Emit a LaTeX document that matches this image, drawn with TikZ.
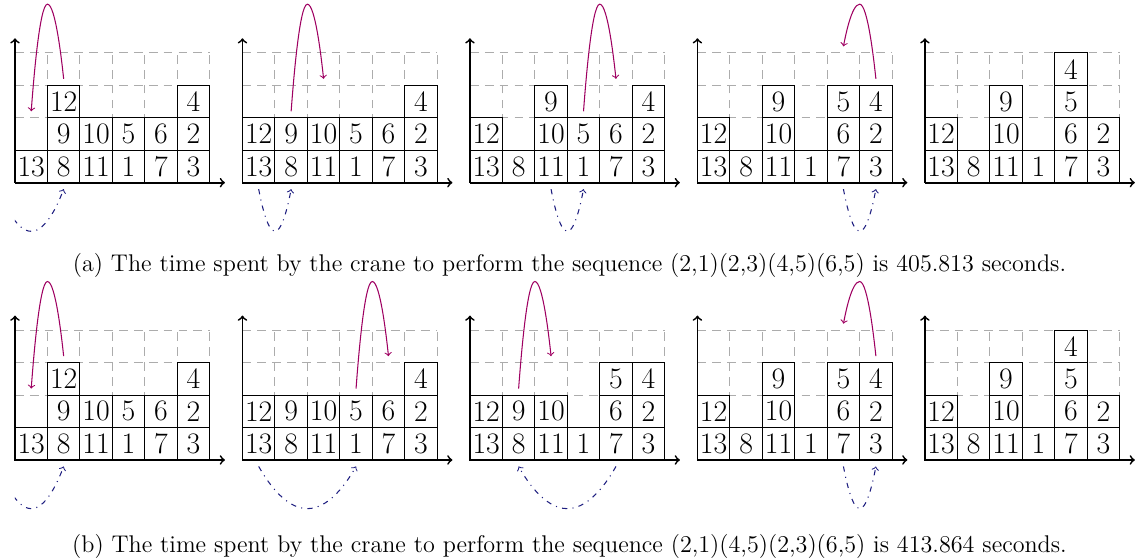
\documentclass[tikz,border=0pt]{standalone}
\definecolor{cranepurple}{rgb}{0.62,0,0.38}
\definecolor{craneblue}{rgb}{0.12,0.12,0.5}
\tikzset{
  cell/.style={draw=black, line width=0.6pt, minimum size=18.543pt, inner sep=0pt,
    font=\fontsize{17}{20}\selectfont},
  gridline/.style={gray!65, line width=0.6pt, dash pattern=on 5pt off 3.5pt},
  axisline/.style={->, line width=1pt, black},
  lift/.style={->, cranepurple, line width=0.6pt},
  travel/.style={->, craneblue, line width=0.6pt, dash pattern=on 3pt off 3pt on 0.6pt off 3pt},
  captext/.style={font=\fontsize{13.8}{16}\selectfont, inner sep=0pt, anchor=base}
}
\newcommand\basegrid{%
  \draw[gridline, step=1] (0,0) grid (6,4);
  \draw[axisline] (0,0) -- (0,4.45);
  \draw[axisline] (0,0) -- (6.47,0);}
\newcommand\colstk[3]{%
  \foreach \cv [count=\ri from 0] in {#3} {\node[cell] (#1-\cv) at (#2+0.5,\ri+0.5) {\cv};}}
\newcommand\crane[5]{%
  \coordinate (#1-ls) at (#2,#3);
  \coordinate (#1-le) at (#4,#5);
  \draw[lift] (#1-ls) parabola bend ({(#2+#4)/2},5.5) (#1-le);}
\newcommand\trip[3]{%
  \coordinate (#1-ts) at (#2,-0.2);
  \coordinate (#1-te) at (#3,-0.2);
  \draw[travel] (#1-ts) parabola bend ({(#2+#3)/2},-1.5) (#1-te);}
\newcommand\stateA[1]{% initial
  \colstk{#1}{0}{13}\colstk{#1}{1}{8,9,12}\colstk{#1}{2}{11,10}
  \colstk{#1}{3}{1,5}\colstk{#1}{4}{7,6}\colstk{#1}{5}{3,2,4}}
\newcommand\stateB[1]{% after (2,1)
  \colstk{#1}{0}{13,12}\colstk{#1}{1}{8,9}\colstk{#1}{2}{11,10}
  \colstk{#1}{3}{1,5}\colstk{#1}{4}{7,6}\colstk{#1}{5}{3,2,4}}
\newcommand\stateD[1]{% before (6,5)
  \colstk{#1}{0}{13,12}\colstk{#1}{1}{8}\colstk{#1}{2}{11,10,9}
  \colstk{#1}{3}{1}\colstk{#1}{4}{7,6,5}\colstk{#1}{5}{3,2,4}}
\newcommand\stateE[1]{% final
  \colstk{#1}{0}{13,12}\colstk{#1}{1}{8}\colstk{#1}{2}{11,10,9}
  \colstk{#1}{3}{1}\colstk{#1}{4}{7,6,5,4}\colstk{#1}{5}{3,2}}
\newcommand\firsttrip[1]{%
  \begin{scope}
    \clip (0,-3) rectangle (7,0);
    \trip{#1}{-0.5}{1.5}
  \end{scope}}
\begin{document}
\begin{tikzpicture}[x=18.543pt, y=18.543pt]
\useasboundingbox (0,0) rectangle (35.10,17.226);
% ---------- row (a)
\begin{scope}[shift={(0.462,11.597)}]
  \basegrid \stateA{a1}
  \crane{a1}{1.5}{3.2}{0.5}{2.2}
  \firsttrip{a1}
\end{scope}
\begin{scope}[shift={(7.472,11.597)}]
  \basegrid \stateB{a2}
  \crane{a2}{1.5}{2.2}{2.5}{3.2}
  \trip{a2}{0.5}{1.5}
\end{scope}
\begin{scope}[shift={(14.482,11.597)}]
  \basegrid
  \colstk{a3}{0}{13,12}\colstk{a3}{1}{8}\colstk{a3}{2}{11,10,9}
  \colstk{a3}{3}{1,5}\colstk{a3}{4}{7,6}\colstk{a3}{5}{3,2,4}
  \crane{a3}{3.5}{2.2}{4.5}{3.2}
  \trip{a3}{2.5}{3.5}
\end{scope}
\begin{scope}[shift={(21.492,11.597)}]
  \basegrid \stateD{a4}
  \crane{a4}{5.5}{3.2}{4.5}{4.2}
  \trip{a4}{4.5}{5.5}
\end{scope}
\begin{scope}[shift={(28.502,11.597)}]
  \basegrid \stateE{a5}
\end{scope}
\node[captext] (capA) at (17.55,8.845) {(a) The time spent by the crane to perform the sequence (2,1)(2,3)(4,5)(6,5) is 405.813 seconds.};
% ---------- row (b)
\begin{scope}[shift={(0.462,3.051)}]
  \basegrid \stateA{b1}
  \crane{b1}{1.5}{3.2}{0.5}{2.2}
  \firsttrip{b1}
\end{scope}
\begin{scope}[shift={(7.472,3.051)}]
  \basegrid \stateB{b2}
  \crane{b2}{3.5}{2.2}{4.5}{3.2}
  \trip{b2}{0.5}{3.5}
\end{scope}
\begin{scope}[shift={(14.482,3.051)}]
  \basegrid
  \colstk{b3}{0}{13,12}\colstk{b3}{1}{8,9}\colstk{b3}{2}{11,10}
  \colstk{b3}{3}{1}\colstk{b3}{4}{7,6,5}\colstk{b3}{5}{3,2,4}
  \crane{b3}{1.5}{2.2}{2.5}{3.2}
  \trip{b3}{4.5}{1.5}
\end{scope}
\begin{scope}[shift={(21.492,3.051)}]
  \basegrid \stateD{b4}
  \crane{b4}{5.5}{3.2}{4.5}{4.2}
  \trip{b4}{4.5}{5.5}
\end{scope}
\begin{scope}[shift={(28.502,3.051)}]
  \basegrid \stateE{b5}
\end{scope}
\node[captext] (capB) at (17.55,0.2) {(b) The time spent by the crane to perform the sequence (2,1)(4,5)(2,3)(6,5) is 413.864 seconds.};
\end{tikzpicture}
\end{document}
